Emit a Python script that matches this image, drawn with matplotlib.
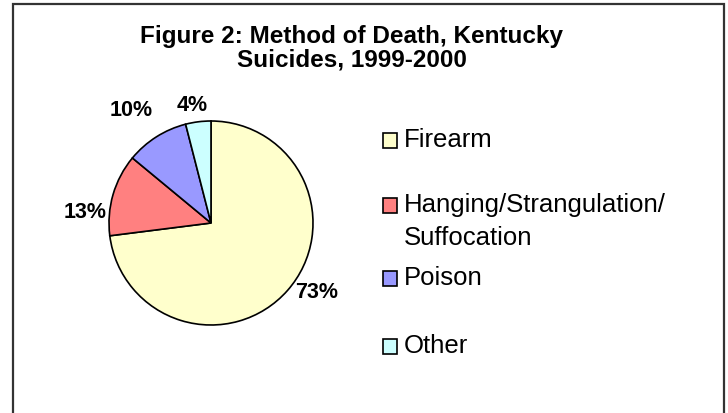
import numpy as np
import matplotlib
matplotlib.use('Agg')
import matplotlib.pyplot as plt
from matplotlib.patches import Rectangle

# Daten
methods = ['Firearm', 'Hanging/Strangulation/\nSuffocation', 'Poison', 'Other']
percents = [73, 13, 10, 4]
colors = ['#FFFFCC', '#FF8080', '#9999FF', '#CCFFFF']
title = 'Figure 2: Method of Death, Kentucky\nSuicides, 1999-2000'

plt.rcParams['font.family'] = ['Liberation Sans', 'DejaVu Sans']

W, H = 728, 414
fig = plt.figure(figsize=(W / 100, H / 100), dpi=100)

# Rahmen um das Diagramm (unten abgeschnitten)
frame = Rectangle((13 / W, -0.05), (724 - 13) / W, (H - 4.5) / H + 0.05,
                  transform=fig.transFigure, fill=False, edgecolor='#333333',
                  linewidth=1.6)
fig.patches.append(frame)

fig.text(352 / W, 1 - 48 / H, title, ha='center', va='center',
         fontsize=17.5, fontweight='bold', linespacing=1.05)

# Kreisdiagramm
cx, cy, r = 211, 224, 102
ax = fig.add_axes([(cx - r) / W, (H - cy - r) / H, 2 * r / W, 2 * r / H])
wedges, _ = ax.pie(percents, colors=colors, startangle=90, counterclock=False,
                   wedgeprops=dict(edgecolor='black', linewidth=1.2))
ax.set_xlim(-1, 1)
ax.set_ylim(-1, 1)
ax.set_aspect('equal')
ax.axis('off')

# Beschriftungen (Winkel / Abstand wie im Original)
label_angles = [-33, 175, 125, 99]
label_dist = [1.24, 1.24, 1.36, 1.18]
for p, a, d in zip(percents, label_angles, label_dist):
    t = np.deg2rad(a)
    ax.text(d * np.cos(t), d * np.sin(t), f'{p}%', ha='center', va='center',
            fontsize=15.5, fontweight='bold', clip_on=False)

# Legende von Hand (Grundlinie der ersten Zeile, Zeilenabstand in px)
legend_base = [147, 212, 285, 353]
line_gap = 33
for name, c, y in zip(methods, colors, legend_base):
    fig.patches.append(Rectangle((383 / W, 1 - (y + 2) / H), 14 / W, 15 / H,
                                 transform=fig.transFigure, facecolor=c,
                                 edgecolor='black', linewidth=1.2))
    for i, line in enumerate(name.split('\n')):
        fig.text(404 / W, 1 - (y + i * line_gap) / H, line, ha='left',
                 va='baseline', fontsize=18.5)

fig.savefig('out.png', dpi=100)
